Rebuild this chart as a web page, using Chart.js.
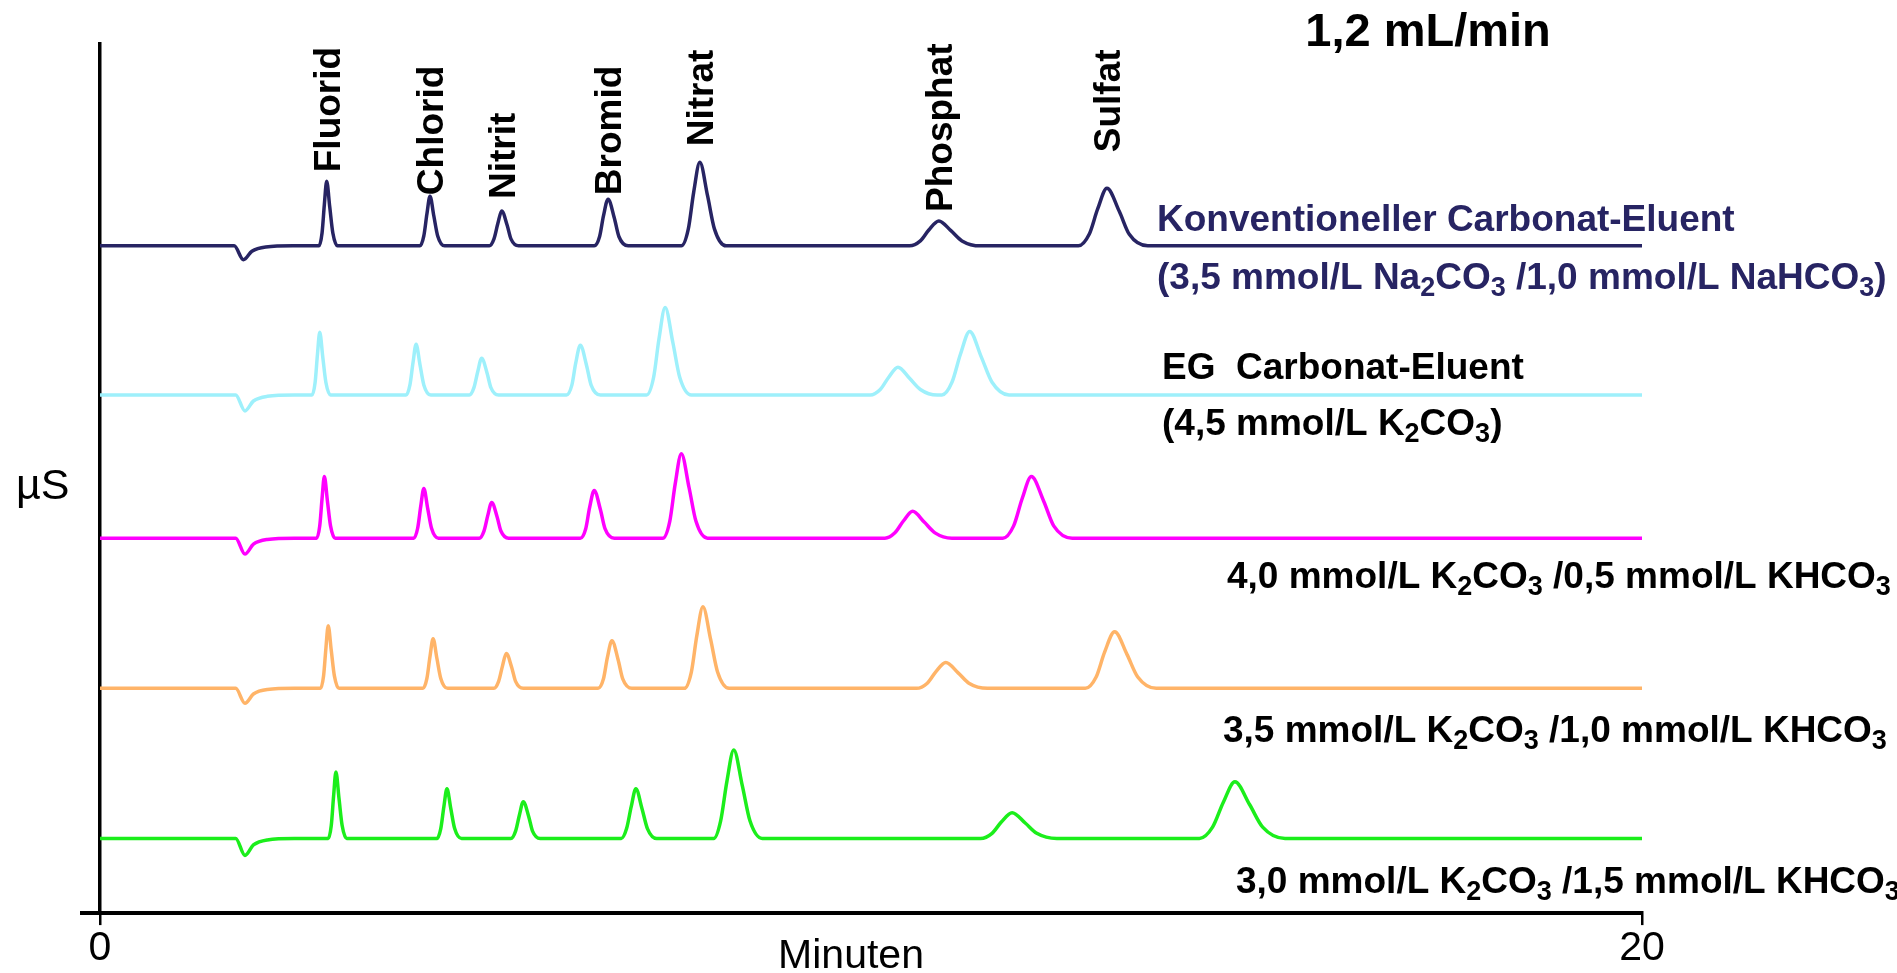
<!DOCTYPE html>
<html>
<head>
  <meta charset="utf-8">
  <title>Carbonat-Eluenten 1,2 mL/min</title>
  <script src="https://cdn.jsdelivr.net/npm/chart.js"></script>
  <style>
    html, body { margin: 0; padding: 0; background: #fff; }
    #box { width: 1897px; height: 973px; }
  </style>
</head>
<body>
  <div id="box"><canvas id="chromatogramm"></canvas></div>

  <script>
    // [Zeit in min, Signal in µS über der eigenen Grundlinie]
    var konventionell = [
      [0, 0], [1.74, 0], [1.86, -1.4], [1.97, -0.55], [2.15, -0.12], [2.5, 0],
      [2.84, 0], [2.88, 1.3], [2.91, 4.16], [2.94, 6.5], [2.98, 3.9], [3.02, 1.3], [3.08, 0],
      [4.15, 0], [4.20, 1.0], [4.24, 3.2], [4.28, 5.0], [4.33, 3.0], [4.38, 1.0], [4.47, 0],
      [5.05, 0], [5.11, 0.7], [5.16, 2.24], [5.21, 3.5], [5.28, 2.1], [5.33, 0.7], [5.43, 0],
      [6.41, 0], [6.48, 0.94], [6.53, 3.01], [6.59, 4.7], [6.67, 2.82], [6.73, 0.94], [6.85, 0],
      [7.54, 0], [7.63, 1.68], [7.70, 5.38], [7.78, 8.4], [7.88, 5.04], [7.97, 1.68], [8.12, 0],
      [10.50, 0], [10.64, 0.5], [10.75, 1.6], [10.88, 2.5], [11.04, 1.5], [11.18, 0.5], [11.42, 0],
      [12.69, 0], [12.83, 1.16], [12.94, 3.71], [13.06, 5.8], [13.22, 3.48], [13.35, 1.16], [13.59, 0],
      [20, 0]
    ];
    var egCarbonat = [
      [0, 0], [1.76, 0], [1.88, -1.6], [1.99, -0.6], [2.17, -0.13], [2.52, 0],
      [2.75, 0], [2.79, 1.26], [2.82, 4.03], [2.85, 6.3], [2.89, 3.78], [2.93, 1.26], [2.99, 0],
      [3.97, 0], [4.02, 1.02], [4.06, 3.26], [4.10, 5.1], [4.15, 3.06], [4.20, 1.02], [4.29, 0],
      [4.79, 0], [4.85, 0.74], [4.90, 2.37], [4.95, 3.7], [5.02, 2.22], [5.07, 0.74], [5.17, 0],
      [6.05, 0], [6.12, 1.0], [6.17, 3.2], [6.23, 5.0], [6.31, 3.0], [6.37, 1.0], [6.49, 0],
      [7.09, 0], [7.18, 1.76], [7.25, 5.63], [7.33, 8.8], [7.43, 5.28], [7.52, 1.76], [7.67, 0],
      [9.99, 0], [10.12, 0.56], [10.23, 1.79], [10.35, 2.8], [10.50, 1.68], [10.64, 0.56], [10.86, 0],
      [10.92, 0], [11.05, 1.28], [11.16, 4.1], [11.28, 6.4], [11.43, 3.84], [11.57, 1.28], [11.79, 0],
      [20, 0]
    ];
    var k40hco05 = [
      [0, 0], [1.76, 0], [1.88, -1.6], [1.99, -0.6], [2.17, -0.13], [2.52, 0],
      [2.81, 0], [2.85, 1.24], [2.88, 3.97], [2.91, 6.2], [2.95, 3.72], [2.99, 1.24], [3.05, 0],
      [4.07, 0], [4.12, 1.0], [4.16, 3.2], [4.20, 5.0], [4.25, 3.0], [4.30, 1.0], [4.39, 0],
      [4.92, 0], [4.98, 0.72], [5.03, 2.3], [5.08, 3.6], [5.15, 2.16], [5.20, 0.72], [5.30, 0],
      [6.23, 0], [6.30, 0.96], [6.35, 3.07], [6.41, 4.8], [6.49, 2.88], [6.55, 0.96], [6.67, 0],
      [7.30, 0], [7.39, 1.7], [7.46, 5.44], [7.54, 8.5], [7.64, 5.1], [7.73, 1.7], [7.88, 0],
      [10.18, 0], [10.31, 0.54], [10.42, 1.73], [10.54, 2.7], [10.69, 1.62], [10.83, 0.54], [11.05, 0],
      [11.71, 0], [11.85, 1.24], [11.96, 3.97], [12.08, 6.2], [12.24, 3.72], [12.37, 1.24], [12.61, 0],
      [20, 0]
    ];
    var k35hco10 = [
      [0, 0], [1.76, 0], [1.88, -1.5], [1.99, -0.57], [2.17, -0.12], [2.52, 0],
      [2.86, 0], [2.90, 1.26], [2.93, 4.03], [2.96, 6.3], [3.00, 3.78], [3.04, 1.26], [3.10, 0],
      [4.19, 0], [4.24, 1.0], [4.28, 3.2], [4.32, 5.0], [4.37, 3.0], [4.42, 1.0], [4.51, 0],
      [5.11, 0], [5.17, 0.7], [5.22, 2.24], [5.27, 3.5], [5.34, 2.1], [5.39, 0.7], [5.49, 0],
      [6.46, 0], [6.53, 0.96], [6.58, 3.07], [6.64, 4.8], [6.72, 2.88], [6.78, 0.96], [6.90, 0],
      [7.58, 0], [7.67, 1.64], [7.74, 5.25], [7.82, 8.2], [7.92, 4.92], [8.01, 1.64], [8.16, 0],
      [10.59, 0], [10.73, 0.52], [10.84, 1.66], [10.97, 2.6], [11.13, 1.56], [11.27, 0.52], [11.51, 0],
      [12.78, 0], [12.92, 1.14], [13.03, 3.65], [13.16, 5.7], [13.32, 3.42], [13.46, 1.14], [13.70, 0],
      [20, 0]
    ];
    var k30hco15 = [
      [0, 0], [1.76, 0], [1.88, -1.7], [1.99, -0.65], [2.17, -0.14], [2.52, 0],
      [2.96, 0], [3.00, 1.34], [3.03, 4.29], [3.06, 6.7], [3.10, 4.02], [3.14, 1.34], [3.20, 0],
      [4.37, 0], [4.42, 1.0], [4.46, 3.2], [4.50, 5.0], [4.55, 3.0], [4.60, 1.0], [4.69, 0],
      [5.33, 0], [5.39, 0.74], [5.44, 2.37], [5.49, 3.7], [5.56, 2.22], [5.61, 0.74], [5.71, 0],
      [6.76, 0], [6.83, 1.0], [6.89, 3.2], [6.95, 5.0], [7.03, 3.0], [7.10, 1.0], [7.22, 0],
      [7.96, 0], [8.05, 1.78], [8.13, 5.7], [8.22, 8.9], [8.33, 5.34], [8.43, 1.78], [8.59, 0],
      [11.42, 0], [11.57, 0.52], [11.69, 1.66], [11.83, 2.6], [12.00, 1.56], [12.15, 0.52], [12.41, 0],
      [14.26, 0], [14.43, 1.14], [14.57, 3.65], [14.72, 5.7], [14.91, 3.42], [15.08, 1.14], [15.37, 0],
      [20, 0]
    ];

    var spuren = [konventionell, egCarbonat, k40hco05, k35hco10, k30hco15];
    // Versatz der Grundlinien (µS), damit die Chromatogramme untereinander stehen
    var grundlinie = [67.1, 52.1, 37.7, 22.6, 7.5];
    var eluenten = [
      'Konventioneller Carbonat-Eluent',
      'EG Carbonat-Eluent',
      '4,0 mmol/L K₂CO₃ /0,5 mmol/L KHCO₃',
      '3,5 mmol/L K₂CO₃ /1,0 mmol/L KHCO₃',
      '3,0 mmol/L K₂CO₃ /1,5 mmol/L KHCO₃'
    ];
    var anionen = ['Fluorid', 'Chlorid', 'Nitrit', 'Bromid', 'Nitrat', 'Phosphat', 'Sulfat'];
    var zeitTicks = [0, 20];

    var farben = ['#272463', '#9ef0fb', '#ff00ff', '#ffb468', '#1bee1b'];
    var schrift = "'Liberation Sans', Arial, Helvetica, sans-serif";

    // Abstand der Peakbeschriftung über der Peakspitze (px)
    var abstand = [9, 1, 12, 4, 16, 9, 36];

    var texte = [
      { text: 'Konventioneller Carbonat-Eluent', x: 1157, y: 231, farbe: farben[0] },
      { text: '(3,5 mmol/L Na₂CO₃ /1,0 mmol/L NaHCO₃)', x: 1157, y: 289, farbe: farben[0] },
      { text: 'EG  Carbonat-Eluent', x: 1162, y: 379, farbe: '#000' },
      { text: '(4,5 mmol/L K₂CO₃)', x: 1162, y: 435, farbe: '#000' },
      { text: eluenten[2], x: 1227, y: 588, farbe: '#000' },
      { text: eluenten[3], x: 1223, y: 742, farbe: '#000' },
      { text: eluenten[4], x: 1236, y: 893, farbe: '#000' }
    ];

    // Text mit tiefgestellten Ziffern (₂, ₃) schreiben
    function schreibe(ctx, text, x, y, size) {
      var tief = { '₂': '2', '₃': '3' };
      text.split(/([₂₃])/).forEach(function (teil) {
        if (!teil) return;
        if (tief[teil]) {
          ctx.font = 'bold ' + Math.round(size * 0.74) + 'px ' + schrift;
          ctx.fillText(tief[teil], x, y + size * 0.2);
          x += ctx.measureText(tief[teil]).width;
        } else {
          ctx.font = 'bold ' + size + 'px ' + schrift;
          ctx.fillText(teil, x, y);
          x += ctx.measureText(teil).width;
        }
      });
    }

    var beschriftung = {
      id: 'beschriftung',
      afterDraw: function (chart) {
        var ctx = chart.ctx;
        var xs = chart.scales.x, ys = chart.scales.y;
        ctx.save();
        ctx.textAlign = 'left';
        ctx.textBaseline = 'alphabetic';

        // Peaknamen senkrecht über den Peaks der obersten Spur
        var peaks = [];
        for (var i = 1; i < konventionell.length - 1; i++) {
          var p = konventionell[i];
          if (p[1] > 0 && p[1] > konventionell[i - 1][1] && p[1] > konventionell[i + 1][1]) peaks.push(p);
        }
        ctx.fillStyle = '#000';
        ctx.font = 'bold 37px ' + schrift;
        peaks.forEach(function (p, k) {
          var px = xs.getPixelForValue(p[0]);
          var py = ys.getPixelForValue(p[1] + grundlinie[0]) - abstand[k];
          ctx.save();
          ctx.translate(px + 13, py);
          ctx.rotate(-Math.PI / 2);
          ctx.fillText(anionen[k], 0, 0);
          ctx.restore();
        });

        // Eluentenbezeichnungen
        texte.forEach(function (t) {
          ctx.fillStyle = t.farbe;
          schreibe(ctx, t.text, t.x, t.y, 37);
        });

        // Flussrate
        ctx.fillStyle = '#000';
        ctx.textAlign = 'center';
        ctx.font = 'bold 47px ' + schrift;
        ctx.fillText('1,2 mL/min', 1428, 46);

        // Achsentitel
        ctx.font = '41px ' + schrift;
        ctx.fillText('Minuten', 851, 968);
        ctx.textAlign = 'left';
        ctx.font = '43px ' + schrift;
        ctx.fillText('µS', 16, 499);
        ctx.restore();
      }
    };

    var ctx = document.getElementById('chromatogramm').getContext('2d');
    new Chart(ctx, {
      type: 'line',
      data: {
        datasets: spuren.map(function (spur, i) {
          return {
            label: eluenten[i],
            data: spur.map(function (p) { return { x: p[0], y: p[1] + grundlinie[i] }; }),
            borderColor: farben[i],
            borderWidth: 3.5,
            pointRadius: 0,
            fill: false,
            cubicInterpolationMode: 'monotone'
          };
        })
      },
      options: {
        responsive: true,
        maintainAspectRatio: false,
        animation: false,
        layout: { padding: { left: 80, right: 255, top: 44, bottom: 1 } },
        plugins: {
          legend: { display: false },
          tooltip: { enabled: false }
        },
        scales: {
          x: {
            type: 'linear',
            min: 0,
            max: 20,
            afterBuildTicks: function (scale) {
              scale.ticks = zeitTicks.map(function (v) { return { value: v }; });
            },
            grid: { drawOnChartArea: false, drawTicks: true, tickLength: 12, color: '#000', lineWidth: 2.5 },
            border: { display: true, color: '#000', width: 4 },
            ticks: {
              color: '#000',
              maxRotation: 0,
              padding: 5,
              font: { family: schrift, size: 41, lineHeight: 0.9 }
            }
          },
          y: {
            type: 'linear',
            min: 0,
            max: 87.4,
            afterBuildTicks: function (scale) {
              scale.ticks = [{ value: 0 }];
            },
            grid: { drawOnChartArea: false, drawTicks: true, tickLength: 20, color: '#000', lineWidth: 4 },
            border: { display: true, color: '#000', width: 3.5 },
            ticks: { display: false }
          }
        }
      },
      plugins: [beschriftung]
    });
  </script>
</body>
</html>
